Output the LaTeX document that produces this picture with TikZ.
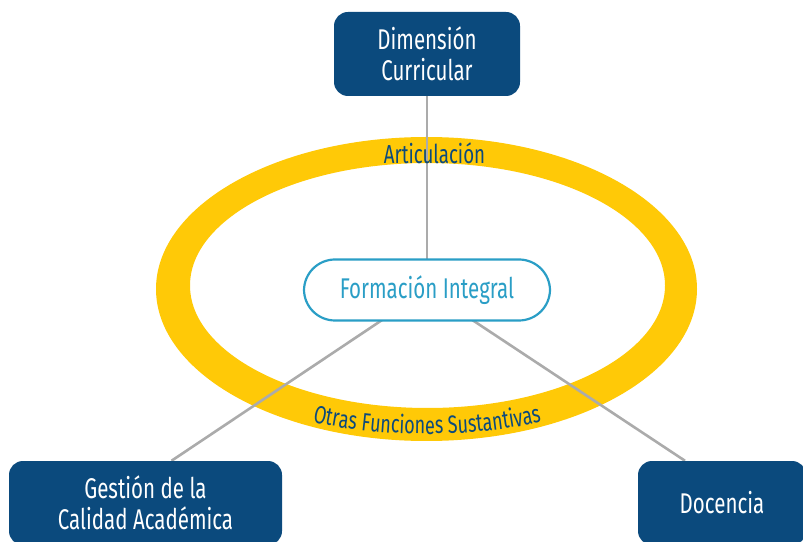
\documentclass[tikz,border=0pt]{standalone}
\usepackage{fontspec}
\setmainfont{Fira Sans}[FakeStretch=0.72]
\usetikzlibrary{positioning, calc, backgrounds, decorations.text}
\definecolor{navy}{HTML}{0B4A7D}
\definecolor{ringgold}{HTML}{FFC907}
\definecolor{cyanblue}{HTML}{2A9EC6}
\definecolor{linkgray}{HTML}{ABABAB}

\begin{document}
\begin{tikzpicture}[x=1pt, y=1pt,
    dimbox/.style={rectangle, rounded corners=14pt, fill=navy, text=white,
                   align=center, font=\fontsize{28.5}{31}\selectfont,
                   minimum height=84pt},
    corebox/.style={rectangle, rounded corners=31pt, draw=cyanblue,
                    line width=2.2pt, fill=white, text=cyanblue,
                    font=\fontsize{28.5}{30}\selectfont,
                    minimum width=246pt, minimum height=61pt},
    link/.style={draw=linkgray, line width=2.6pt},
    ringlabel/.style={text=navy, font=\fontsize{26}{28}\selectfont}]
  \useasboundingbox (0,0) rectangle (803,541);

  % Central node and the three dimensions
  \node[corebox] (core) at (427,251) {Formación Integral};
  \node[dimbox, minimum width=186pt] (curr) at (427,487)
    {Dimensión\\Curricular};
  \node[dimbox, minimum width=273pt] (gest) at (145.5,38)
    {Gestión de la\\Calidad Académica};
  \node[dimbox, minimum width=168pt] (doc) at (722,38) {Docencia};

  % Ring and connectors behind the nodes
  \begin{scope}[on background layer]
    \fill[ringgold, even odd rule]
      (426.5,252) ellipse [x radius=270.5, y radius=152]
      (427.5,255.5) ellipse [x radius=237.5, y radius=122.5];
    \draw[link] (curr) -- (core.center);
    \draw[link] (core.center) -- ($(gest.north)+(26,0)$);
    \draw[link] (core.center) -- ($(doc.north)+(-37,0)$);
  \end{scope}

  % Ring labels
  \node[ringlabel] (artic) at (434.5,388) {Articulación};
  \path[decorate, decoration={text along path, text align=center,
        text={|\fontsize{25}{27}\selectfont\color{navy}|Otras Funciones Sustantivas}}]
    (427,218) ++(225:254 and 111)
    arc[start angle=225, end angle=315, x radius=254, y radius=111];
\end{tikzpicture}
\end{document}
